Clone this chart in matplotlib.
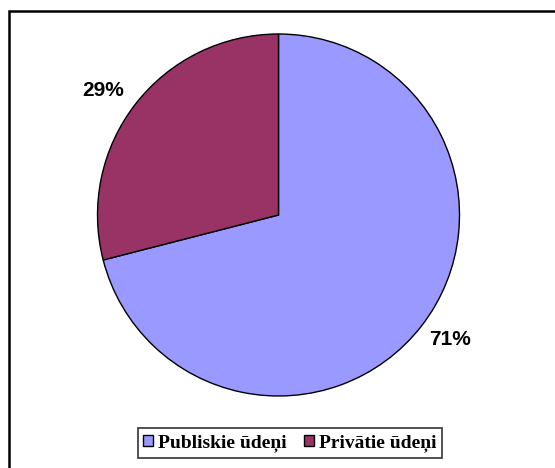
import matplotlib.pyplot as plt
from matplotlib.patches import Rectangle

categories = ['Publiskie ūdeņi', 'Privātie ūdeņi']
shares = [71, 29]
colors = ['#9999FF', '#993366']

fig = plt.figure(figsize=(5.55, 4.68), dpi=100)

# pie area, centred a bit above the middle of the figure
W, H = 555, 468
cx, cy, r = 278.5, 468 - 215, 181
ax = fig.add_axes([(cx - r) / W, (cy - r) / H, 2 * r / W, 2 * r / H])

wedges, _, autotexts = ax.pie(
    shares, colors=colors, startangle=90, counterclock=False,
    autopct='%1.0f%%', pctdistance=1.17,
    wedgeprops=dict(edgecolor='black', linewidth=1.0),
    textprops=dict(fontsize=15, fontweight='bold', family='Liberation Sans'),
)
# percentage labels sit just outside the rim
autotexts[0].set_position((0.95, -0.69))
autotexts[1].set_position((-0.97, 0.69))
ax.set_xlim(-1, 1)
ax.set_ylim(-1, 1)
ax.set_aspect('equal')

# outer frame around the chart area
fig.patches.append(Rectangle((9 / W, -0.05), 1.1, 1 - 11 / H + 0.05,
                             transform=fig.transFigure, fill=False,
                             edgecolor='black', linewidth=1.8))

leg = fig.legend(wedges, categories, loc='center', bbox_to_anchor=(290 / W, 1 - 443 / H),
                 ncol=2, frameon=True, fancybox=False, edgecolor='black',
                 handlelength=0.48, handleheight=0.48, handletextpad=0.28,
                 columnspacing=0.9, borderpad=0.3,
                 prop=dict(family='Liberation Serif', weight='bold', size=14))
leg.get_frame().set_linewidth(1.2)
for h in leg.legend_handles:
    h.set_edgecolor('black')
    h.set_linewidth(1.0)

plt.savefig('out.png', dpi=100)
